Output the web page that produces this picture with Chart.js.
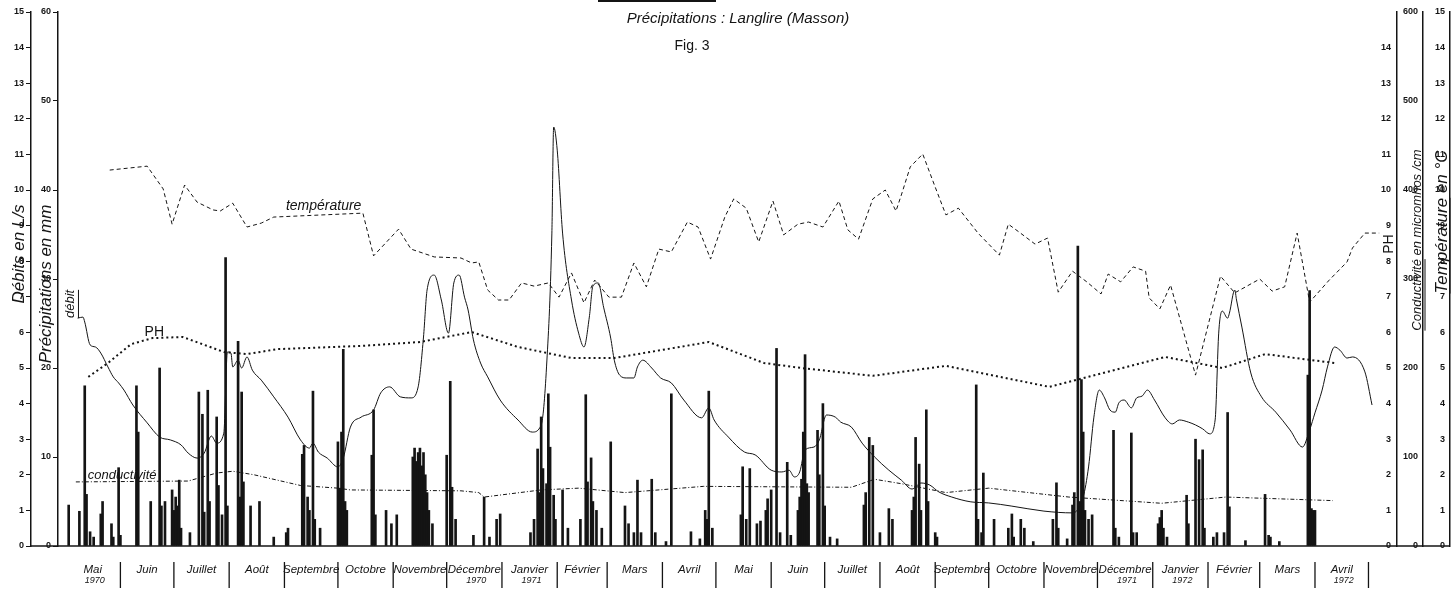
<!DOCTYPE html>
<html lang="fr">
<head>
<meta charset="UTF-8">
<title>Fig. 3 - Langlire</title>
<script src="https://cdn.jsdelivr.net/npm/chart.js"></script>
<style>
  html, body { margin: 0; padding: 0; background: #fff; }
  canvas { display: block; }
</style>
</head>
<body>
<canvas id="fig3" width="1453" height="597"></canvas>
<script>
// axe des x : jours comptés depuis le 1er mai 1970
const monthNames = ['Mai', 'Juin', 'Juillet', 'Août', 'Septembre', 'Octobre', 'Novembre', 'Décembre',
    'Janvier', 'Février', 'Mars', 'Avril', 'Mai', 'Juin', 'Juillet', 'Août', 'Septembre', 'Octobre',
    'Novembre', 'Décembre', 'Janvier', 'Février', 'Mars', 'Avril']
const monthYears = ['1970', '', '', '', '', '', '', '1970', '1971', '', '', '', '', '', '', '', '', '', '',
    '1971', '1972', '', '', '1972']
const monthStart = [0, 31, 61, 92, 123, 153, 184, 214, 245, 276, 304, 335, 365, 396, 426, 457, 488, 518,
    549, 579, 610, 641, 670, 701, 731]
const monthMid = [15.5, 46, 76.5, 107.5, 138, 168.5, 199, 229.5, 260.5, 290, 319.5, 350, 380.5, 411, 441.5,
    472.5, 503, 533.5, 564, 594.5, 625.5, 655.5, 685.5, 716]

// précipitations journalières (mm)
const precipDays = [
    2, 8, 11, 12, 14, 16, 20, 21, 26, 27, 30, 31,
    40, 41, 48, 53, 54, 56, 60,
    61, 62, 63, 64, 65, 70, 75, 77, 78, 80, 81, 85, 86, 88, 90, 91,
    97, 98, 99, 100, 104, 109, 117, 124, 125,
    133, 134, 136, 137, 139, 140, 143, 153, 154, 155, 156, 157, 158,
    172, 173, 174, 180, 183, 186,
    195, 196, 197, 198, 199, 200, 201, 202, 203, 204, 206,
    214, 216, 217, 219, 229, 235, 238, 242, 244,
    261, 263, 265, 266, 267, 268, 270, 271, 272, 274, 275,
    279, 282, 289, 292, 293, 295, 296, 298, 301, 306,
    314, 316, 319, 321, 323, 329, 331, 337, 340, 351,
    356, 359, 360, 361, 363,
    379, 380, 382, 384, 388, 390, 393, 394, 396, 399, 401, 405, 407,
    411, 412, 413, 414, 415, 416, 417, 422, 423, 425, 426, 429, 433,
    448, 449, 451, 453, 457, 462, 464,
    475, 476, 477, 479, 480, 483, 484, 488, 489,
    511, 512, 514, 515, 521,
    529, 531, 532, 536, 538, 543,
    554, 556, 557, 562, 565, 566, 568, 569, 570, 571, 572, 574, 576,
    588, 589, 591, 598, 599, 601, 613, 614, 615, 616, 618,
    629, 630, 634, 636, 638, 639, 644, 646, 650, 652, 653, 662,
    673, 675, 676, 681, 697, 698, 699, 700, 701
]
const precipMm = [
    4.6, 3.9, 18, 5.8, 1.6, 1.0, 3.6, 5, 2.5, 1, 8.8, 1.2,
    18, 12.8, 5, 20, 4.5, 5, 6.3,
    4, 5.5, 4.5, 7.4, 2, 1.5, 17.3, 14.8, 3.8, 17.5, 5, 14.5, 6.8, 3.5, 32.4, 4.5,
    23, 5.5, 17.3, 7.2, 4.5, 5, 1, 1.5, 2,
    10.3, 11.3, 5.5, 4, 17.4, 3, 2, 11.7, 6.5, 12.8, 22.1, 5, 4,
    10.2, 15.3, 3.5, 4, 2.5, 3.5,
    10, 11, 9.5, 10.5, 11, 9, 10.5, 8, 6, 4, 2.5,
    10.2, 18.5, 6.6, 3, 1.2, 5.5, 1, 3, 3.6,
    1.5, 3, 10.9, 6, 14.5, 8.7, 7, 17.1, 11.1, 5.7, 3,
    6.3, 2, 3, 17, 7.2, 9.9, 5, 4, 2, 11.7,
    4.5, 2.5, 1.5, 7.4, 1.5, 7.5, 1.5, 0.5, 17.1, 1.6,
    0.8, 4, 3, 17.4, 2,
    3.5, 8.9, 3, 8.7, 2.5, 2.8, 4, 5.3, 6.3, 22.2, 1.5, 9.4, 1.2,
    4, 5.5, 7.5, 12.8, 21.5, 7, 6, 13, 8, 16, 4.5, 1, 0.8,
    4.6, 6, 12.2, 11.3, 1.5, 4.2, 3,
    4, 5.5, 12.2, 9.2, 4, 15.3, 5, 1.5, 1,
    18.1, 3, 1.5, 8.2, 3,
    2, 3.6, 1, 3, 2, 0.5,
    3, 7.1, 2, 0.8, 4.6, 6, 33.7, 5, 18.7, 12.8, 4, 3, 3.5,
    13, 2, 1, 12.7, 1.5, 1.5, 2.5, 3.2, 4, 2, 1,
    5.7, 2.5, 12, 9.7, 10.8, 2, 1, 1.5, 1.5, 15, 4.4, 0.6,
    5.8, 1.2, 1, 0.5, 19.2, 28.7, 4.2, 4, 4
]

// débit (L/s)
const debitDays = [7, 10, 11, 14, 17, 20, 24, 27, 30, 33, 38, 46, 53, 59, 65, 69, 74, 78, 82, 85,
    89, 91, 93, 94, 97, 99, 102, 105, 110, 117, 125, 132, 137, 139, 142, 147, 153, 156, 160, 166,
    173, 177, 182, 188, 194, 198, 201, 203, 207, 211, 215, 218, 221, 224, 226, 229, 233, 237, 244, 254,
    262, 267, 270, 273, 274, 276, 279, 284, 288, 291, 294, 296, 299, 302, 306, 308, 311, 315, 319, 321,
    324, 329, 334, 340, 347, 357, 361, 364, 372, 381, 387, 396, 402, 406, 409, 412, 415, 420, 423, 427,
    432, 435, 441, 447, 454, 462, 469, 475, 480, 485, 490, 497, 508, 518, 531, 549, 565, 571, 574, 577,
    580, 583, 586, 589, 591, 594, 598, 601, 604, 607, 611, 617, 621, 625, 630, 634, 638, 642, 645, 647,
    649, 652, 653, 656, 657, 660, 665, 671, 679, 687, 694, 698, 701, 705, 708, 712, 715, 719, 722, 729, 733]
const debitLs = [6.4, 6.43, 6.29, 5.65, 5.59, 5.42, 5.03, 4.75, 4.58, 4.38, 3.96, 3.46, 3.06, 2.98, 2.84, 2.61, 2.47, 2.61, 3.09, 2.89,
    3.17, 5.45, 5.42, 5.03, 5.22, 5.0, 5.31, 4.94, 4.66, 4.19, 3.62, 2.98, 2.75, 2.89, 2.64, 2.47, 2.22, 2.47, 3.34, 3.62,
    3.82, 4.3, 4.47, 4.19, 4.16, 4.47, 5.87, 7.19, 7.61, 6.91, 5.98, 7.39, 7.61, 6.99, 6.63, 5.79, 5.14, 4.75, 4.1, 3.54,
    3.2, 3.4, 5.03, 8.79, 11.77, 11.12, 8.79, 6.91, 5.98, 5.59, 6.43, 7.3, 7.39, 6.71, 5.84, 5.22, 4.8, 4.72, 4.72, 5.03,
    5.22, 5.0, 4.72, 4.58, 4.1, 3.6, 3.88, 3.54, 3.06, 2.64, 2.56, 2.13, 2.08, 2.13, 1.94, 2.08, 2.7, 2.78, 2.98, 3.68,
    3.62, 3.48, 3.34, 2.89, 2.5, 2.13, 1.85, 1.6, 1.77, 1.71, 1.52, 1.38, 1.24, 1.21, 1.12, 0.98, 0.93, 1.38, 2.22, 3.62,
    4.38, 4.16, 3.82, 3.76, 4.02, 4.1, 3.88, 4.16, 4.21, 4.38, 4.1, 3.6, 3.43, 3.54, 3.48, 3.4, 3.29, 3.15, 3.54, 5.98,
    6.6, 6.4, 6.54, 7.19, 6.91, 6.15, 4.86, 4.19, 3.76, 3.26, 2.78, 3.26, 3.74, 4.38, 5.03, 5.59, 5.5, 5.28, 5.31, 4.89, 3.96]

// température (°C)
const tempDays = [25, 46, 55, 60, 67, 74, 83, 87, 94, 102, 110, 117, 167, 173, 187, 194, 207, 222, 228, 232,
    237, 243, 249, 256, 263, 271, 277, 284, 291, 297, 305, 312, 319, 326, 333, 340, 349, 355, 362, 370,
    375, 382, 389, 397, 403, 411, 417, 425, 434, 439, 445, 453, 460, 466, 469, 474, 481, 488, 494, 501,
    512, 524, 529, 535, 544, 551, 557, 565, 573, 581, 585, 592, 599, 606, 608, 614, 620, 634, 648, 656,
    670, 677, 684, 691, 698, 709, 719, 722, 729, 737]
const tempC = [10.56, 10.67, 10.03, 9.04, 10.14, 9.66, 9.44, 9.41, 9.63, 8.96, 9.07, 9.24, 9.35, 8.15, 8.9, 8.34, 8.12, 8.09, 7.95, 7.98,
    7.19, 6.91, 6.91, 7.39, 7.3, 7.39, 6.99, 7.67, 6.83, 7.47, 6.99, 6.99, 7.95, 7.28, 8.34, 8.26, 9.1, 8.96, 8.06, 9.24,
    9.75, 9.49, 8.54, 9.69, 8.74, 9.04, 9.1, 8.96, 9.69, 8.88, 8.62, 9.75, 10.0, 9.41, 9.86, 10.65, 11.01, 10.08, 9.3, 9.49,
    8.79, 8.17, 9.04, 8.82, 8.48, 8.65, 7.13, 7.72, 7.42, 7.08, 7.64, 7.42, 7.84, 7.72, 6.97, 6.66, 7.33, 4.8, 7.58, 7.11,
    7.5, 7.16, 7.28, 8.79, 6.85, 7.47, 7.98, 8.37, 8.79, 8.79]

// PH
const phDays = [13, 24, 37, 49, 66, 89, 102, 119, 166, 199, 228, 254, 284, 308, 361, 392, 413, 453, 494, 552, 617, 649, 673, 712]
const phVal = [4.75, 5.14, 5.67, 5.84, 5.87, 5.45, 5.39, 5.53, 5.62, 5.73, 6.01, 5.59, 5.28, 5.28, 5.73, 5.14, 5.0, 4.78, 5.06, 4.47, 5.31, 5.0, 5.39, 5.14]

// conductivité (micromhos/cm)
const condDays = [6, 69, 85, 94, 106, 132, 153, 160, 222, 232, 235, 267, 288, 314, 358, 441, 454, 469, 494, 518, 563, 615, 651, 711]
const condVal = [72, 73, 82, 84, 80, 68, 65, 63, 62, 60, 55, 63, 65, 60, 67, 66, 75, 70, 60, 65, 55, 48, 55, 51]

const ink = '#141414'
const pts = (xs, ys) => xs.map((d, i) => ({ x: d, y: ys[i] }))
const tickFont = { family: '"Liberation Sans"', size: 9, weight: 'bold' }

function vText(ctx, txt, x, y, font, underline) {
    ctx.save()
    ctx.translate(x, y)
    ctx.rotate(-Math.PI / 2)
    ctx.font = font
    ctx.textAlign = 'center'
    ctx.textBaseline = 'middle'
    ctx.fillText(txt, 0, 0)
    if (underline) {
        const w = ctx.measureText(underline === true ? txt : underline).width
        const x0 = -ctx.measureText(txt).width / 2
        ctx.lineWidth = 1
        ctx.beginPath()
        ctx.moveTo(x0, 8)
        ctx.lineTo(x0 + w, 8)
        ctx.stroke()
    }
    ctx.restore()
}

const decor = {
    id: 'decor',
    afterDraw(chart) {
        const { ctx, chartArea, scales } = chart
        const x = scales.x
        const bottom = chartArea.bottom
        ctx.save()
        ctx.fillStyle = ink
        ctx.strokeStyle = ink

        // ligne de base prolongée sous les axes
        ctx.lineWidth = 1.5
        ctx.beginPath()
        ctx.moveTo(scales.yD.right, bottom)
        ctx.lineTo(scales.yT.left, bottom)
        ctx.stroke()

        // séparateurs entre les mois
        ctx.lineWidth = 1.3
        monthStart.slice(1).forEach(d => {
            const px = x.getPixelForValue(d)
            ctx.beginPath()
            ctx.moveTo(px, bottom + 16)
            ctx.lineTo(px, bottom + 42)
            ctx.stroke()
        })

        // années sous les mois
        ctx.font = 'italic 9px "Liberation Sans"'
        ctx.textAlign = 'center'
        ctx.textBaseline = 'middle'
        monthYears.forEach((yr, i) => {
            if (yr) ctx.fillText(yr, x.getPixelForValue(monthMid[i]) + 2, bottom + 34)
        })

        // titre
        ctx.fillRect(598, 0, 118, 2)
        ctx.font = 'italic 15px "Liberation Sans"'
        ctx.fillText('Précipitations : Langlire (Masson)', 738, 19)
        ctx.font = '14px "Liberation Sans"'
        ctx.fillText('Fig. 3', 692, 46)

        // titres des axes
        vText(ctx, 'Débits en L/s', 19, 254, 'italic 17px "Liberation Sans"')
        vText(ctx, 'Précipitations en mm', 46, 284, 'italic 17px "Liberation Sans"')
        vText(ctx, 'PH', 1389, 244, '14px "Liberation Sans"')
        vText(ctx, 'Conductivité en micromhos /cm', 1417, 240, 'italic 13px "Liberation Sans"', 'Conductivité')
        vText(ctx, 'Température en °C', 1442, 222, 'italic 17px "Liberation Sans"', 'Température')

        // étiquettes des courbes
        vText(ctx, 'débit', x.getPixelForValue(3), scales.yD.getPixelForValue(6.8), 'italic 13px "Liberation Sans"', true)
        ctx.font = '14px "Liberation Sans"'
        ctx.fillText('PH', x.getPixelForValue(50), scales.yPH.getPixelForValue(6.0))
        ctx.font = 'italic 14px "Liberation Sans"'
        ctx.fillText('température', x.getPixelForValue(145), scales.yT.getPixelForValue(9.55))
        ctx.font = 'italic 13px "Liberation Sans"'
        ctx.fillText('conductivité', x.getPixelForValue(32), scales.yC.getPixelForValue(79))
        ctx.restore()
    }
}

const yAxis = (pos, weight, min, max, step, width, extra) => Object.assign({
    position: pos, weight: weight, min: min, max: max,
    afterFit: ax => { ax.width = width },
    ticks: { stepSize: step, color: ink, font: tickFont, padding: 2 },
    grid: { drawOnChartArea: false, tickLength: 5, color: ink, lineWidth: 1 },
    border: { color: ink, width: 1.5 }
}, extra)

new Chart(document.getElementById('fig3'), {
    type: 'bar',
    data: {
        datasets: [
            {
                label: 'précipitations', data: pts(precipDays, precipMm), yAxisID: 'yP',
                backgroundColor: ink, barThickness: 2, grouped: false
            },
            {
                type: 'line', label: 'débit', data: pts(debitDays, debitLs), yAxisID: 'yD',
                borderColor: ink, borderWidth: 1, pointRadius: 0, tension: 0.4, cubicInterpolationMode: 'monotone'
            },
            {
                type: 'line', label: 'température', data: pts(tempDays, tempC), yAxisID: 'yT',
                borderColor: ink, borderWidth: 1, borderDash: [4, 3], pointRadius: 0, tension: 0
            },
            {
                type: 'line', label: 'PH', data: pts(phDays, phVal), yAxisID: 'yPH',
                borderColor: ink, borderWidth: 2, borderDash: [2, 3], pointRadius: 0, tension: 0
            },
            {
                type: 'line', label: 'conductivité', data: pts(condDays, condVal), yAxisID: 'yC',
                borderColor: ink, borderWidth: 1, borderDash: [4, 2, 1, 2], pointRadius: 0, tension: 0
            }
        ]
    },
    options: {
        responsive: false,
        animation: false,
        layout: { padding: { top: 12, left: 0, right: 0, bottom: 0 } },
        plugins: { legend: { display: false }, tooltip: { enabled: false } },
        scales: {
            x: {
                type: 'linear', min: -4, max: 747, offset: false,
                afterBuildTicks: ax => { ax.ticks = monthMid.map(v => ({ value: v })) },
                afterFit: ax => { ax.height = 51 },
                grid: { display: false },
                border: { display: false },
                ticks: {
                    autoSkip: false, maxRotation: 0, padding: 9, color: ink,
                    font: { family: '"Liberation Sans"', size: 11.5, style: 'italic' },
                    callback: (v, i) => monthNames[i]
                }
            },
            yD: yAxis('left', 1, 0, 15, 1, 31),
            yP: yAxis('left', 0, 0, 60, 10, 27),
            yPH: yAxis('right', 0, 0, 15, 1, 26, {
                ticks: { stepSize: 1, color: ink, font: tickFont, mirror: true, padding: -6, callback: v => v === 15 ? '' : v },
                grid: { drawOnChartArea: false, drawTicks: false }
            }),
            yC: yAxis('right', 1, 0, 600, 100, 27, {
                ticks: { stepSize: 100, color: ink, font: tickFont, mirror: true, padding: -5 },
                grid: { drawOnChartArea: false, drawTicks: false }
            }),
            yT: yAxis('right', 2, 0, 15, 1, 3, {
                ticks: { stepSize: 1, color: ink, font: tickFont, mirror: true, padding: -5 },
                grid: { drawOnChartArea: false, drawTicks: false }
            })
        }
    },
    plugins: [decor]
})
</script>
</body>
</html>
